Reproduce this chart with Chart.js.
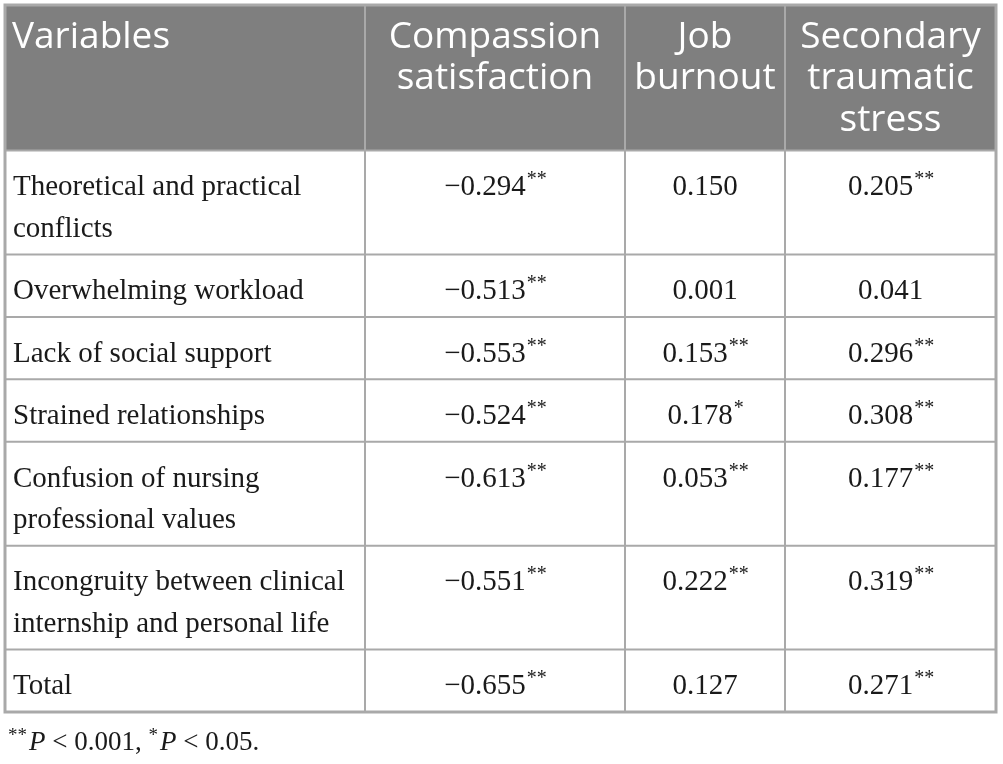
<!DOCTYPE html>
<html>
<head>
<meta charset="utf-8">
<script src="https://cdn.jsdelivr.net/npm/chart.js@4.4.0/dist/chart.umd.min.js"></script>
<style>
  html, body { margin: 0; padding: 0; background: #fff; }
  #wrap { width: 1003px; height: 764px; position: relative; }
</style>
</head>
<body>
<div id="wrap"><canvas id="table"></canvas></div>
<script>
// Table content
const columnHeaders = [["Variables"], ["Compassion", "satisfaction"], ["Job", "burnout"], ["Secondary", "traumatic", "stress"]];
const variables = [
    ["Theoretical and practical", "conflicts"],
    ["Overwhelming workload"],
    ["Lack of social support"],
    ["Strained relationships"],
    ["Confusion of nursing", "professional values"],
    ["Incongruity between clinical", "internship and personal life"],
    ["Total"]
];
const compassionSatisfaction = [-0.294, -0.513, -0.553, -0.524, -0.613, -0.551, -0.655];
const compassionSig = ["**", "**", "**", "**", "**", "**", "**"];
const jobBurnout = [0.150, 0.001, 0.153, 0.178, 0.053, 0.222, 0.127];
const burnoutSig = ["", "", "**", "*", "**", "**", ""];
const secondaryStress = [0.205, 0.041, 0.296, 0.308, 0.177, 0.319, 0.271];
const stressSig = ["**", "", "**", "**", "**", "**", "**"];
const footnote = [["**", "P", " < 0.001, "], ["*", "P", " < 0.05."]];

// Layout (not data): relative column widths, row height in line units
const colWeights = [360, 260, 160, 211];
const ROW_PAD = 0.5;

const valueColumns = [
    { values: compassionSatisfaction, sig: compassionSig },
    { values: jobBurnout, sig: burnoutSig },
    { values: secondaryStress, sig: stressSig }
];

const colEdges = colWeights.reduce((acc, w) => { acc.push(acc[acc.length - 1] + w); return acc; }, [0]);
const rowLines = [columnHeaders.reduce((m, c) => Math.max(m, c.length), 1)].concat(variables.map(v => v.length));
const rowEdges = rowLines.reduce((acc, n) => { acc.push(acc[acc.length - 1] + n + ROW_PAD); return acc; }, [0]);

const HEADER_FONT = '37px "Open Sans", sans-serif';
const BODY_FONT = '29px "Liberation Serif", serif';
const SUP_FONT = '20px "Liberation Serif", serif';
const NOTE_FONT = '27px "Liberation Serif", serif';
const NOTE_SUP_FONT = '19px "Liberation Serif", serif';
const ITALIC_FONT = 'italic 27px "Liberation Serif", serif';
const LINE_COLOR = '#a9a9a9';

function fmt(v) {
    const s = Math.abs(v).toFixed(3);
    return v < 0 ? '\u2212' + s : s;
}

function drawWithSup(ctx, main, sup, cx, baseline) {
    ctx.font = BODY_FONT;
    const w1 = ctx.measureText(main).width;
    ctx.font = SUP_FONT;
    const w2 = sup ? ctx.measureText(sup).width : 0;
    const x0 = cx - (w1 + w2) / 2;
    ctx.textAlign = 'left';
    ctx.font = BODY_FONT;
    ctx.fillText(main, x0, baseline);
    if (sup) {
        ctx.font = SUP_FONT;
        ctx.fillText(sup, x0 + w1 + 1, baseline - 10);
    }
}

const tablePlugin = {
    id: 'tablePlugin',
    afterDraw(chart) {
        const ctx = chart.ctx;
        const xs = chart.scales.x, ys = chart.scales.y;
        const px = colEdges.map(v => xs.getPixelForValue(v));
        const py = rowEdges.map(v => ys.getPixelForValue(v));
        const unit = ys.getPixelForValue(1) - ys.getPixelForValue(0);
        const left = px[0], right = px[px.length - 1];
        const top = py[0], bottom = py[py.length - 1];
        const firstBase = unit * 1.03;
        const bodyBase = firstBase + 2;

        ctx.save();
        ctx.textBaseline = 'alphabetic';

        // header background
        ctx.fillStyle = '#7f7f7f';
        ctx.fillRect(left, top, right - left, py[1] - top);

        // header text
        ctx.fillStyle = '#ffffff';
        ctx.font = HEADER_FONT;
        columnHeaders.forEach((lines, c) => {
            lines.forEach((t, i) => {
                const y = top + firstBase + i * unit;
                if (c === 0) {
                    ctx.textAlign = 'left';
                    ctx.fillText(t, px[0] + 7, y);
                } else {
                    ctx.textAlign = 'center';
                    ctx.fillText(t, (px[c] + px[c + 1]) / 2, y);
                }
            });
        });

        // body
        ctx.fillStyle = '#1a1a1a';
        variables.forEach((lines, r) => {
            const rowTop = py[r + 1];
            ctx.font = BODY_FONT;
            ctx.textAlign = 'left';
            lines.forEach((t, i) => ctx.fillText(t, px[0] + 8, rowTop + bodyBase + i * unit));
            valueColumns.forEach((col, c) => {
                drawWithSup(ctx, fmt(col.values[r]), col.sig[r], (px[c + 1] + px[c + 2]) / 2, rowTop + bodyBase);
            });
        });

        // grid lines
        ctx.strokeStyle = LINE_COLOR;
        ctx.lineWidth = 2;
        py.slice(1, -1).forEach(y => {
            ctx.beginPath(); ctx.moveTo(left, y); ctx.lineTo(right, y); ctx.stroke();
        });
        px.slice(1, -1).forEach(x => {
            ctx.beginPath(); ctx.moveTo(x, top); ctx.lineTo(x, bottom); ctx.stroke();
        });
        ctx.lineWidth = 3;
        ctx.strokeRect(left, top, right - left, bottom - top);

        // footnote
        let fx = left + 3;
        const fy = bottom + 38;
        ctx.fillStyle = '#1a1a1a';
        ctx.textAlign = 'left';
        footnote.forEach(([sup, it, rest]) => {
            ctx.font = NOTE_SUP_FONT;
            ctx.fillText(sup, fx, fy - 9);
            fx += ctx.measureText(sup).width + 2;
            ctx.font = ITALIC_FONT;
            ctx.fillText(it, fx, fy);
            fx += ctx.measureText(it).width;
            ctx.font = NOTE_FONT;
            ctx.fillText(rest, fx, fy);
            fx += ctx.measureText(rest).width;
        });
        ctx.restore();
    }
};

new Chart(document.getElementById('table'), {
    type: 'scatter',
    data: { datasets: [] },
    options: {
        responsive: true,
        maintainAspectRatio: false,
        animation: false,
        layout: { padding: { left: 5, right: 7, top: 5, bottom: 52 } },
        plugins: { legend: { display: false }, tooltip: { enabled: false } },
        scales: {
            x: { type: 'linear', display: false, min: 0, max: colEdges[colEdges.length - 1] },
            y: { type: 'linear', display: false, reverse: true, min: 0, max: rowEdges[rowEdges.length - 1] }
        }
    },
    plugins: [tablePlugin]
});
</script>
</body>
</html>
